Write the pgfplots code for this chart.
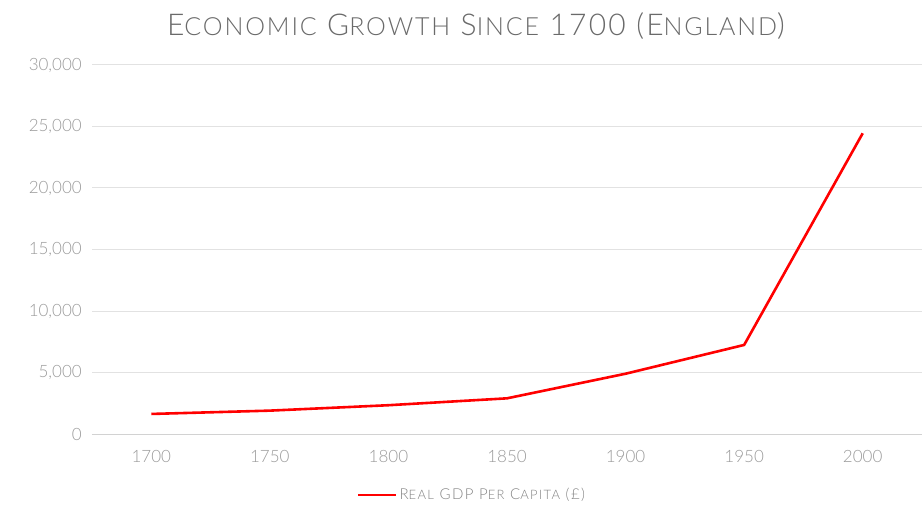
\documentclass[border=0pt]{standalone}
\usepackage{fontspec}
\setmainfont{Lato}[UprightFont={* Light}]
\usepackage{pgfplots}
\pgfplotsset{compat=1.18}
\definecolor{gridc}{HTML}{E2E2E2}
\definecolor{axisc}{HTML}{D2D2D2}
\definecolor{tickc}{HTML}{9A9A9A}
\definecolor{titc}{HTML}{6A6A6A}
\newcommand{\SC}[2]{{\fontsize{#1}{#1}\selectfont #2}}
\begin{document}
\begin{tikzpicture}
\begin{axis}[
  scale only axis, width=830bp, height=369bp,
  at={(0,0)}, anchor=south west,
  xmin=1675, xmax=2025, ymin=0, ymax=30000,
  xtick={1700,1750,...,2000}, ytick={0,5000,...,30000},
  scaled ticks=false,
  axis line style={draw=none}, major tick length=0pt,
  ymajorgrids, grid style={gridc, line width=1bp},
  /pgf/number format/assume math mode=true,
  yticklabel style={/pgf/number format/.cd, fixed, 1000 sep={,}, /tikz/.cd, anchor=east, inner sep=0pt, xshift=-10bp, font=\fontsize{17bp}{17bp}\selectfont, text=tickc},
  xticklabel style={/pgf/number format/.cd, fixed, 1000 sep={}, /tikz/.cd, anchor=north, inner sep=0pt, yshift=-16bp, font=\fontsize{17bp}{17bp}\selectfont, text=tickc},
  legend style={at={(0.458,-0.165)}, anchor=center, draw=none, fill=none, text=tickc!85!black, font=\fontsize{15bp}{15bp}\selectfont\addfontfeatures{LetterSpace=10}, inner sep=0pt},
  legend image code/.code={\draw[#1, line width=2.5bp] (0,0) -- (38bp,0);},
  clip=false,
]
\draw[axisc, line width=1bp] (axis cs:1675,0) -- (axis cs:2025,0);
\addplot[color=red, line width=2.6bp, line join=round, mark=none] coordinates {
  (1700,1630) (1750,1900) (1800,2340) (1850,2900) (1900,4900) (1950,7240) (2000,24450)
};
\addlegendentry{R\SC{13bp}{EAL} GDP P\SC{13bp}{ER} C\SC{13bp}{APITA} (£)}
\end{axis}
\node[anchor=base, text=titc, inner sep=0pt] at (384bp,398bp) {\fontsize{30bp}{32bp}\selectfont\addfontfeatures{LetterSpace=7.5}E\SC{25bp}{CONOMIC} G\SC{25bp}{ROWTH} S\SC{25bp}{INCE} 1700 (E\SC{25bp}{NGLAND})};
\useasboundingbox (-92bp,-76bp) rectangle (831bp,434bp);
\end{tikzpicture}
\end{document}
